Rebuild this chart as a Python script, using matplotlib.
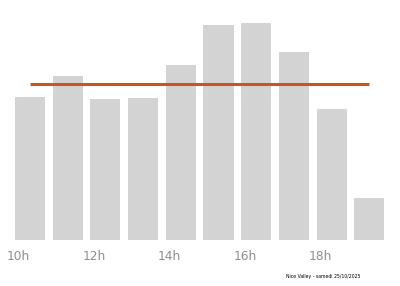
import numpy as np
import matplotlib
matplotlib.use('Agg')
import matplotlib.pyplot as plt

# hourly attendance (arbitrary units)
hours = [10, 11, 12, 13, 14, 15, 16, 17, 18, 19]
values = [143, 164, 141, 142, 175, 215, 217, 188, 131, 42]
tick_hours = [10, 12, 14, 16, 18]
tick_labels = ['10h', '12h', '14h', '16h', '18h']
footer = 'Nice Valley - samedi 25/10/2025'

fig = plt.figure(figsize=(4, 2.86), dpi=100)
ax = fig.add_axes([0, 1 - 240 / 286, 1, 240 / 286])

x = np.array(hours)
ax.bar(x, values, width=0.8, color='#d3d3d3', zorder=1)
mean_val = np.mean(values)
ax.plot(x, [mean_val] * len(x), color='#c9561d', lw=2.2, zorder=2, solid_capstyle='butt')

ax.set_xlim(hours[0] - 0.796, hours[0] + 9.814)
ax.set_ylim(0, 240)
ax.set_xticks(np.array(tick_hours) - 0.3)
ax.set_xticklabels(tick_labels, fontsize=8.8, color='#8f8f8f')
ax.tick_params(axis='x', length=0, pad=7.5)
ax.set_yticks([])
for s in ax.spines.values():
    s.set_visible(False)

fig.text(0.715, 0.028, footer, fontsize=3.3, color='black')

fig.savefig('out.png', dpi=100)
